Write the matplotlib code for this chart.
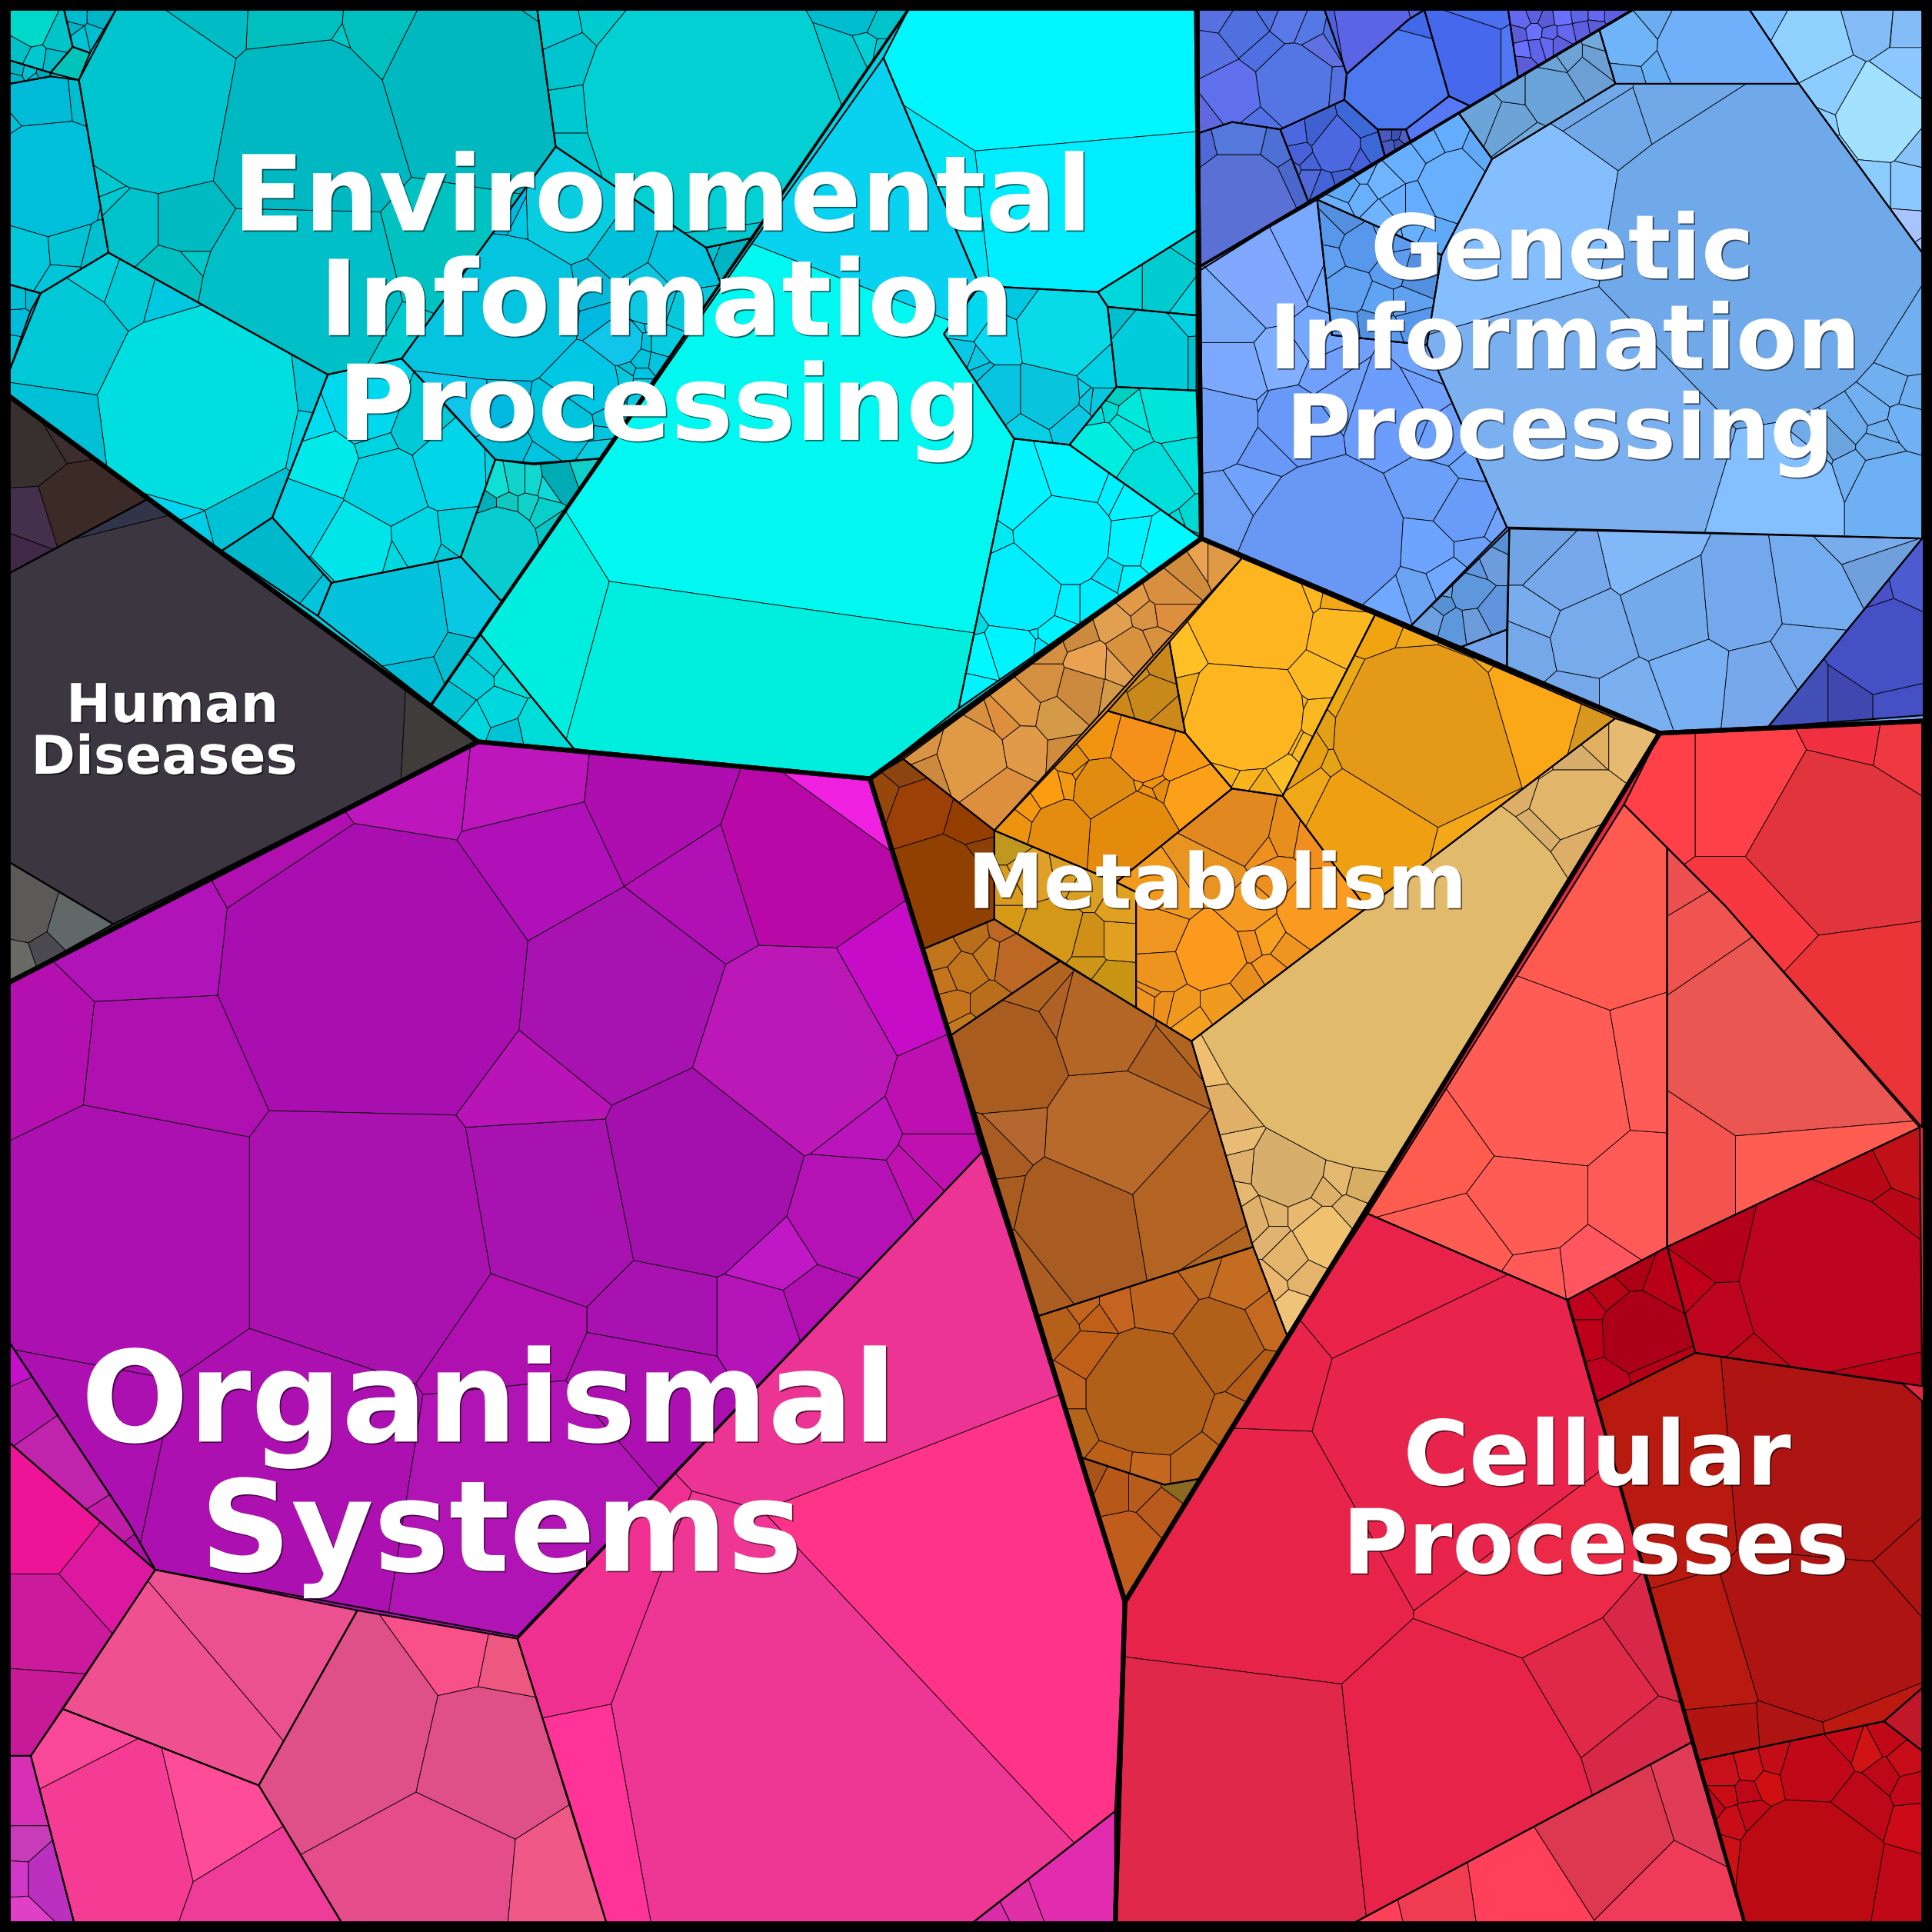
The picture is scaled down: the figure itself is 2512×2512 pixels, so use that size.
import matplotlib
matplotlib.use('Agg')
import matplotlib.pyplot as plt
import matplotlib.patheffects as pe
from matplotlib.patches import Polygon, Rectangle

# Voronoi treemap, everything in 1568 px coordinates
# regions are typed, cells come from seed points (x, y, radius) in each region

# --- Environmental
t1_poly = [(8,8),(52,8),(59,38),(41,59),(8,49)]
t1_seeds = [(25,20,15),(46,30,6),(30,48,4),(42,50,4),(14,40,5)]
t1_cols = ['#00D8CC','#00C4C8','#00C8D0','#00BCC8','#00C0C8']
t2_poly = [(52,8),(94,8),(73,43),(59,38)]
t2_seeds = [(62,14,5),(80,14,6),(66,30,5),(75,28,5),(60,22,3)]
t2_cols = ['#00BCD0','#00B4C8','#00C4D4']
t2b_poly = [(41,59),(59,38),(73,43),(64,65)]
t2b_seeds = [(58,52,12)]
t2b_cols = ['#00C4B8']
t3_poly = [(8,49),(41,59),(41,62),(8,68)]
t3_seeds = [(14,56,4),(24,58,4),(34,60,3),(12,64,3),(28,63,2)]
t3_cols = ['#00B4C8','#00C0D0','#00A8BC']
t4_poly = [(8,68),(41,62),(64,65),(88,205),(33,238),(8,231)]
t4_seeds = [(32,81,25),(38,143,45),(19,207,15),(56,204,6),(54,229,8),(80,210,6),(62,78,6),(68,150,3),(10,100,5)]
t4_cols = ['#00BBD8','#00BFDA','#00C8DA','#00C4D4','#00C4D8','#00C0D0','#00BCD0','#00C8D4','#00C0D8']
t5_poly = [(64,65),(94,8),(436,8),(451,119),(360,244),(326,291),(266,304),(88,205)]
t5_seeds = [(127,83,70),(245,105,75),(382,64,70),(236,25,30),(318,32,30),(169,22,25),(417,13,12),(242,236,75),(107,182,22),(150,182,22),(360,207,30),(140,217,14),(84,150,3),(270,48,4),(150,208,4),(245,55,4),(90,165,4),(330,285,3)]
t5_cols = ['#00C4CE','#00B8C2','#00B8C0','#00BFBF','#00C0BE','#00BCC4','#00BEC6','#00BFC6','#00C2CA','#00BCC2','#00C2C0','#00C0C2','#00C8D0','#00C8C8','#00C8C8','#00C8C8','#00C8D0','#00CCD0']
t6_poly = [(88,205),(266,304),(253,338),(221,420),(180,447),(8,322),(8,300),(33,238)]
t6_seeds = [(162,331,78),(51,277,42),(105,232,15),(41,347,35),(204,411,24),(137,420,5),(85,225,7),(135,240,5),(255,320,5),(250,350,6),(140,428,3)]
t6_cols = ['#00DEE0','#00C8D6','#00CCD8','#00C0D6','#00C2D4','#00D4F0','#00D0DC','#00C8E0','#00C8D8','#00D4E4','#00CCE4']
t7_poly = [(8,231),(33,238),(25,252),(8,300)]
t7_seeds = [(16,260,6),(15,243,4),(26,243,3),(12,285,5)]
t7_cols = ['#00BCDC','#00C0D8','#00B8D0','#00C4D8']
t8_poly = [(266,304),(326,291),(361,328),(402,373),(374,452),(269,473),(221,420)]
t8_seeds = [(264,376,22),(314,395,28),(366,379,28),(248,420,25),(287,443,30),(338,440,18),(372,436,12),(318,452,10),(296,331,25),(338,347,15),(306,363,6),(255,347,6),(258,471,3),(396,378,3),(362,450,3)]
t8_cols = ['#00EAEA','#00D4E4','#00D6E8','#00D4E6','#00E4EA','#00D6E4','#00D0DC','#00D8E0','#00D8EE','#00C8D4','#00D4E0','#00DCF0','#00C8D0','#00D0E0','#00C8D4']
t9_poly = [(180,447),(221,420),(269,473),(258,500)]
t9_seeds = [(225,460,30),(262,490,4)]
t9_cols = ['#00B8CC','#00C4DC']
t10_poly = [(269,473),(374,452),(407,488),(350,572),(258,500)]
t10_seeds = [(315,500,45),(325,555,28),(385,490,22),(375,535,10)]
t10_cols = ['#04C2DC','#00BCD4','#08C8E4','#04BED0']
t11_poly = [(360,244),(451,119),(573,201),(585,230),(489,372),(433,376),(402,373),(326,291)]
t11_seeds = [(412,250,55),(458,172,32),(508,208,16),(545,220,18),(526,239,24),(549,247,12),(427,173,10),(421,170,8),(503,277,18),(483,237,6),(520,291,7),(510,300,4),(533,293,5),(537,279,8),(524,279,4),(520,304,4),(520,310,3),(506,306,6),(476,312,26),(409,333,14),(402,333,7),(414,343,8),(456,341,26),(487,335,10),(485,352,4),(486,362,3),(414,362,13),(435,372,5),(518,256,3),(516,250,3),(520,262,3),(489,258,3),(525,261,3)]
t11_cols = ['#04C4E0','#08CCE0','#00C0DA','#00C4E0','#0CC8E0','#08C8DC','#00C8E4','#00B8E0','#10C4EA','#08B8D8','#00C4DC','#00C0D8']
t12_poly = [(402,373),(433,377),(489,372),(459,414),(407,488),(374,452)]
t12_seeds = [(405,440,28),(420,392,5),(432,392,5),(445,395,5),(405,395,3),(395,410,4),(455,388,12),(472,382,8),(412,410,6),(428,410,5),(440,415,5),(450,430,6)]
t12_cols = ['#08CCD0','#10D4CC','#10D8D0','#10D8D8','#10E0D4','#00B0B8','#00ACB4','#10D0C8','#10C8C0','#10D0C8','#08D0C8','#08C4C4']
t13_poly = [(436,8),(737,8),(611,193),(573,201),(451,119)]
t13_seeds = [(575,85,100),(452,22,5),(462,45,6),(470,95,6),(470,120,3),(490,15,2),(690,45,4),(705,38,4),(715,22,5),(700,15,4),(715,40,3),(590,195,3)]
t13_cols = ['#02D0D2','#00C8D2','#00C4CE','#00C8D0','#00C8D0','#00CCD0','#00C8D0','#00D0D4','#00C4CC','#00BCD0','#00C8D0','#00C8D0']
t14_poly = [(573,201),(611,193),(585,230)]
t14_seeds = [(590,212,10),(580,208,2)]
t14_cols = ['#00B4C4','#00C0D0']

r1_poly = [(717,47),(795,232),(766,271),(823,356),(778,575),(706,632),(466,608),(390,515),(612,195)]
r1_seeds = [(690,170,80),(620,350,150),(592,548,85),(390,493,57)]
r1_cols = ['#08D2F0','#00F8F0','#00EEDE','#00EEE0']
r2_poly = [(737,8),(971,8),(971,187),(891,237),(795,232),(717,47)]
r2_seeds = [(850,50,80),(860,165,65),(770,175,30)]
r2_cols = ['#00F6FF','#00ECFF','#00E4F4']
r3a_poly = [(795,232),(891,237),(899,249),(906,314),(868,361),(823,356),(766,271)]
r3a_seeds = [(863,269,36),(851,320,25),(811,320,20),(890,298,14),(868,340,12),(834,350,10),(811,276,15),(826,242,8),(890,325,3),(882,324,3),(876,318,3),(791,293,4),(795,303,3),(786,291,2),(790,261,8)]
r3a_cols = ['#08DAE8','#08C4DC','#08C4E0','#00D0E4','#08C8E4','#08D0E4','#08D8F0','#00C8E0','#08C8E0','#08C8E0','#08D0E4','#08C8E4','#08C0DC','#08C8E4','#00D8F0']
r3b_poly = [(891,237),(971,187),(971,256),(899,249)]
r3b_seeds = [(915,225,15),(945,225,20),(965,240,4),(965,195,8)]
r3b_cols = ['#00D8DC','#00CCD0','#00D4DC','#00CCD4']
r3c_poly = [(899,249),(971,256),(971,317),(906,314)]
r3c_seeds = [(936,286,30),(965,286,10),(900,256,3),(963,262,8)]
r3c_cols = ['#00CCDC','#00C0D0','#00C0D0','#00D0E0']
r3d_poly = [(906,314),(971,317),(975,437),(868,361)]
r3d_seeds = [(953,330,25),(920,338,12),(895,365,20),(915,347,12),(936,392,26),(961,375,14),(905,320,5),(957,427,4),(965,424,3),(961,434,3),(951,434,4),(890,335,3),(900,333,3)]
r3d_cols = ['#00E4DC','#00E8DC','#00EEE0','#00E4DC','#00DEDC','#00E0DC','#00D0C0','#00D8D4','#00D8D4','#00D4D0','#00D8D4','#00DCD8','#00D8D4']
r4_poly = [(823,356),(868,361),(975,437),(778,575)]
r4_seeds = [(863,436,38),(826,478,35),(870,392,24),(834,404,24),(915,441,16),(936,446,10),(901,466,8),(863,486,10),(890,486,10),(820,525,20),(795,533,15),(853,513,7),(843,528,5),(790,555,6),(915,469,3),(901,404,4),(911,409,4),(809,441,2),(788,505,2),(834,514,3)]
r4_cols = ['#00F0FF','#00ECFF','#00F4FF','#00F4FF','#00F4FF','#00F8FF','#00E4F8','#00F0FF','#00ECFF','#00F4FF','#00F8FF','#00F4FF','#00E4FF','#00F4FF','#00F4FF','#00F0FF','#00F4FF','#00E8F0','#00D8E0','#00ECFF']
r5_poly = [(350,572),(390,515),(466,608),(388,602)]
r5_seeds = [(385,550,8),(405,575,10),(435,590,8),(370,572,5),(398,535,5),(385,585,4),(415,548,4),(412,595,4)]
r5_cols = ['#00D0DC','#00D8E0','#00DCD8','#00C4D4']

# --- Genetic
g1_poly = [(973,8),(1075,8),(1093,60),(1091,81),(1039,105),(1000,99),(973,108)]
g1_seeds = [(1050,68,30),(1000,75,22),(1010,25,16),(985,45,12),(1045,18,10),(1070,40,8),(1072,70,8),(1025,42,12),(1062,25,5),(1030,12,4),(978,92,8),(1020,100,3),(1085,30,4),(990,12,5)]
g1_cols = ['#5476E4','#6070EC','#5070E0','#5872E4','#5A78E8','#6070E0','#5470E0','#4F70E0','#5478E4','#5070E0','#6068E0','#5070E4','#4C70E0','#5870E0']
g2_poly = [(1075,8),(1156,8),(1143,16),(1093,60)]
g2_seeds = [(1115,20,30),(1085,25,3),(1148,12,3)]
g2_cols = ['#5A64E4','#5060D8','#5868E0']
g3_poly = [(1156,8),(1224,8),(1232,63),(1193,86),(1176,78)]
g3_seeds = [(1190,45,30),(1218,45,10),(1200,15,8)]
g3_cols = ['#4568EC','#5078F4','#4A70F0']
g3b_poly = [(1093,60),(1143,16),(1156,8),(1176,78),(1141,105),(1118,105),(1091,81)]
g3b_seeds = [(1135,65,38),(1148,16,2)]
g3b_cols = ['#4C78F0','#4068E8']
g3c_poly = [(1176,78),(1193,86),(1145,116),(1141,105)]
g3c_seeds = [(1168,98,15)]
g3c_cols = ['#5678F4']
g4_poly = [(1224,8),(1325,8),(1232,63)]
g4_seeds = [(1235,16,5),(1245,12,4),(1255,16,4),(1268,14,5),(1282,12,4),(1296,12,4),(1308,12,3),(1232,28,5),(1245,26,4),(1258,27,4),(1270,26,4),(1284,23,3),(1295,21,3),(1235,40,5),(1246,38,3),(1256,35,3),(1265,35,3),(1234,50,2)]
g4_cols = ['#6468F0','#5C60E0','#5A5CD8','#6A70FF','#5E64E8']
g5_poly = [(1091,81),(1118,105),(1124,127),(1062,164),(1039,105)]
g5_seeds = [(1085,120,18),(1055,125,6),(1105,100,6),(1070,108,7),(1062,145,5),(1075,150,5),(1052,110,4),(1100,128,6),(1112,120,4),(1090,145,4),(1048,138,3),(1062,132,3)]
g5_cols = ['#4C68E0','#4860D8','#3C68D8','#4060D0','#5068D8','#4464D8']
g6_poly = [(973,108),(1000,99),(1039,105),(1062,164),(973,220)]
g6_seeds = [(1005,165,42),(1005,118,16),(1048,145,10),(1035,125,4),(975,125,8)]
g6_cols = ['#5A70D4','#5478DC','#4A68CC','#4C70D4','#5068D8']
g7_poly = [(1118,105),(1141,105),(1145,116),(1124,127)]
g7_seeds = [(1126,110,2),(1133,110,2),(1139,112,2),(1128,118,2),(1135,117,2)]
g7_cols = ['#4858C0','#3C50B0','#5060C8']

m1_poly = [(1325,8),(1420,8),(1460,68),(1311,68),(1298,24)]
m1_seeds = [(1385,38,38),(1325,35,16),(1345,18,5),(1322,62,3),(1345,55,5)]
m1_cols = ['#70B0FA','#70B4F8','#6CACF0','#68A8EC','#68B0F4']
m2_poly = [(1298,24),(1311,68),(1211,129),(1184,92)]
m2_seeds = [(1258,75,18),(1225,98,12),(1285,58,6),(1240,118,6),(1210,92,6),(1272,45,7),(1295,45,4),(1298,35,3),(1228,75,3),(1262,52,4)]
m2_cols = ['#6AA4D8','#6CA4D8','#6CA0D4','#72A8DC']
m3_poly = [(1184,92),(1211,129),(1170,207),(1069,162)]
m3_seeds = [(1180,150,24),(1205,125,4),(1160,115,9),(1140,130,8),(1122,148,7),(1105,160,6),(1092,152,8),(1150,165,6),(1132,165,5),(1120,175,6),(1145,185,5),(1165,195,8),(1170,110,6),(1105,140,3),(1130,188,4),(1085,170,3)]
m3_cols = ['#68B0FC','#60A8F8','#64ACFC','#68B0FF','#70B4FF']
m3b_poly = [(1069,162),(1170,207),(1158,280),(1081,272)]
m3b_seeds = [(1095,235,12),(1105,200,14),(1130,220,8),(1092,180,5),(1120,245,8),(1140,245,6),(1145,265,8),(1130,270,4),(1115,262,4),(1090,265,4),(1078,210,3),(1082,190,2),(1125,192,3),(1148,225,5)]
m3b_cols = ['#60A0F0','#5898EC','#5C9CF0','#5490E0','#60A4F4']
m4_poly = [(971,218),(1069,162),(1081,272),(1158,280),(1223,428),(1144,509),(975,437)]
m4_seeds = [(1075,440,60),(1030,235,22),(1005,260,6),(1005,300,14),(1040,290,14),(1060,220,8),(1085,320,7),(1075,305,3),(1128,335,25),(1178,355,14),(995,345,20),(1030,365,12),(1165,295,3),(1155,320,4),(1050,345,24),(1020,400,12),(1165,400,15),(1195,375,5),(1190,415,22),(1160,445,14),(1175,470,10),(1120,490,16),(1005,410,3),(1040,340,4),(1062,275,5),(1195,445,5),(1212,425,3),(1150,480,5),(1078,228,3)]
m4_cols = ['#6898F4','#80A8FF','#78A8F8','#7CA8FF','#80B0FF','#78A8FF','#70A0F8','#70A0FC','#6C9CFC','#6CA0FC','#70A0F8','#6898F8','#70A4FC','#70A0FC','#6898F8','#70A4FC','#6CA0F8','#6CA4FC','#689CF8','#6CA4FF','#70A8FF','#70A8FF','#70A0F4','#70A4FC','#74A8FF','#6CA0F8','#70A4FC','#6CA4F4','#70A8FC']
m5_poly = [(1211,129),(1311,68),(1460,68),(1560,205),(1560,437),(1223,428),(1158,280),(1170,207)]
m5_seeds = [(1245,185,58),(1425,215,122),(1290,345,105),(1455,395,34),(1530,395,22),(1535,315,8),(1520,335,6),(1505,345,5),(1545,340,6),(1522,360,5),(1490,360,5),(1545,290,6),(1475,370,3),(1500,380,4),(1320,80,3),(1335,75,3),(1315,72,2),(1525,350,3),(1550,320,3)]
m5_cols = ['#84BEFF','#6FA9EA','#7AB0F0','#84BFFF','#6EB0F4','#70B0F0','#70B0F0','#6CACEC','#70B0F4','#6CACEC','#6CA4E0','#70B0F0','#72ACE8','#70B0F0','#70A8E8','#70A8E8','#70A8E8','#70B0F0','#70B0F0']
m6_poly = [(1420,8),(1560,8),(1560,205),(1460,68)]
m6_seeds = [(1525,95,32),(1490,75,10),(1467,30,24),(1520,15,10),(1550,18,8),(1550,60,10),(1485,125,10),(1548,150,9),(1520,150,10),(1555,120,4),(1545,190,8),(1555,205,3),(1478,105,6),(1440,15,3)]
m6_cols = ['#A2E2FF','#8CCCFF','#90D0FF','#84BCF8','#84BCF8','#8AC8FF','#90D4FF','#8AC8FF','#8CCCFF','#88C4F8','#A8C4FF','#A0C0FF','#8CD0FF','#7CC0FF']
m7_poly = [(1225,429),(1560,437),(1435,590),(1347,595),(1223,542)]
m7_seeds = [(1290,515,26),(1355,495,28),(1410,490,24),(1475,480,22),(1375,550,18),(1270,470,20),(1335,455,15),(1250,450,5),(1425,555,16),(1320,570,14),(1470,530,10),(1515,460,6),(1510,445,5),(1280,570,6),(1250,500,5),(1240,525,5)]
m7_cols = ['#78ABEC','#72AAEC','#74A8EC','#74ACF0','#78B0F4','#78A8EC','#80B8F8','#70A4E4','#78A8EC','#7AB0F0','#74A8EC','#70A0DC','#78ACEC','#74A8E8','#78ACEC','#74A8E8']
m8_poly = [(1225,429),(1223,511),(1186,525),(1144,509)]
m8_seeds = [(1192,480,12),(1210,455,7),(1170,490,4),(1162,500,3),(1210,495,5),(1180,505,4),(1195,503,3),(1218,438,3),(1172,478,3),(1198,460,3)]
m8_cols = ['#5E98DC','#6C9CDC','#5890D4','#6CA0E0','#6094DC']
m8b_poly = [(1186,525),(1223,511),(1223,542)]
m8b_seeds = [(1210,525,8)]
m8b_cols = ['#76A4EC']
d1_poly = [(1560,437),(1568,437),(1568,580),(1435,590)]
d1_seeds = [(1530,525,35),(1465,570,12),(1515,480,12),(1555,470,14),(1500,570,8),(1540,570,8)]
d1_cols = ['#4450C4','#4250B8','#4A50C8','#4C5CD0','#4048B0','#4450C4']

# --- Metabolism
a_poly = [(975,437),(1008,453),(807,674),(733,616)]
a_seeds = [(789,615,27),(811,645,20),(877,562,18),(860,581,14),(829,608,15),(919,527,14),(884,539,12),(850,555,10),(905,505,8),(945,478,10),(960,460,7),(930,500,6),(830,575,8),(815,590,6),(760,625,8),(895,565,5),(920,488,6),(935,520,5),(975,450,5),(850,525,5),(905,540,4),(800,595,4),(865,610,4),(752,605,4),(985,450,4),(945,498,3),(875,515,5)]
a_cols = ['#E09A45','#DD8F3D','#CC8A3E','#D59A48','#E09A48','#D8923E','#E8A252','#D49040','#E0A050','#D89040','#CF8C3C','#D89444']
a2_poly = [(949,521),(962,595),(899,577)]
a2_seeds = [(932,565,13),(950,585,6),(920,550,6),(942,538,4),(908,572,3)]
a2_cols = ['#C8881A','#CC8818','#D09020']
b_poly = [(1008,453),(1116,499),(1041,646),(1000,640),(962,595),(949,521)]
b_seeds = [(1017,502,47),(1011,579,46),(1083,515,20),(1067,548,14),(1070,585,12),(960,530,7),(1055,510,5),(1060,605,6),(1042,600,3),(1040,625,7),(1015,628,5),(1000,620,4),(1025,635,4),(1048,575,3),(968,565,3),(1060,485,3),(1085,490,3),(1050,600,3)]
b_cols = ['#FEB520','#FEB520','#FCB820','#FBBA22','#FAB820','#FFC026','#FBB81E','#FAB820','#F5B21E','#FBC028','#F8B41C','#F8B41C','#F0AE1C','#F5B420','#F0AC18','#FCB820','#F0A81A','#F5B420']
c_poly = [(1116,499),(1311,583),(1109,737),(1041,646)]
c_seeds = [(1155,595,72),(1240,570,40),(1105,570,24),(1115,660,45),(1150,525,14),(1180,530,10),(1055,610,14),(1090,625,8),(1085,590,6),(1125,515,7),(1205,540,5),(1295,585,5),(1075,640,6),(1195,680,5)]
c_cols = ['#E49A18','#FAA818','#EAAA14','#EEA012','#F0A818','#F4AC14','#E8A012','#E4A418','#E0A018','#F0A410','#F0AA16','#D89820','#F0A818','#F4A818']
d_poly = [(899,577),(962,595),(1000,640),(906,716),(807,674)]
d_seeds = [(927,609,25),(897,640,24),(919,676,33),(862,672,20),(967,648,20),(954,617,14),(892,600,15),(849,640,12),(831,652,8),(822,664,6),(870,617,8),(866,636,4),(879,628,4),(932,645,3),(941,641,3),(936,634,3),(919,634,3),(840,625,5),(860,609,5)]
d_cols = ['#F59018','#E08C10','#E48A0C','#E48C10','#FBA018','#F89A14','#F09410','#FC9C10','#F49812','#EC9410','#E49010','#F09814','#EC9210','#EC9010','#E48C10','#F09410','#F09C18']
e_poly = [(1000,640),(1041,646),(1109,737),(967,845),(922,818),(922,724),(906,716)]
e_seeds = [(1004,668,28),(1041,676,12),(1063,680,10),(982,774,26),(1068,740,26),(941,756,18),(943,788,16),(1013,740,14),(984,708,14),(1037,712,8),(1028,760,8),(1015,764,6),(993,816,14),(960,816,6),(971,831,7),(936,804,3),(932,811,3),(943,812,4),(1013,800,8),(1032,788,6),(1045,772,7),(949,732,10),(1024,684,8)]
e_cols = ['#E18820','#E88E1C','#F08E20','#FC9A1E','#FB9A20','#F09620','#EC941E','#F49A22','#E89422','#EE9020','#F8A020','#F09020','#F09A20','#F0981E','#F4A020','#E89020','#F09420','#EE901E','#E88E1C','#F49620','#F09420','#F09A20','#EE9020']
f_poly = [(807,674),(906,716),(922,724),(922,818),(807,746)]
f_seeds = [(853,756,22),(884,764,12),(908,764,12),(905,798,15),(884,782,4),(840,712,14),(818,680,8),(862,708,6),(818,724,7),(818,744,4),(910,736,8),(884,720,5)]
f_cols = ['#D49818','#D09018','#E0A020','#C89414','#CE9618','#E0A028','#C09820','#D8A024','#D89C20','#D49A18','#E0A020','#D8A024']
h_poly = [(750,770),(807,746),(860,780),(772,840)]
h_seeds = [(827,778,18),(782,790,10),(805,775,7),(775,815,6),(800,815,6),(815,755,3),(765,775,3),(785,835,3),(770,795,3),(790,760,3)]
h_cols = ['#BC6824','#C0741C','#C47A1C','#C4741C','#B86E1A']
i_poly = [(772,840),(860,780),(967,845),(1017,1012),(843,1068)]
i_seeds = [(815,860,40),(905,920,48),(875,990,45),(898,832,36),(965,975,42),(800,935,18),(870,825,3),(935,855,15),(825,1030,18),(805,975,10),(955,838,3),(835,795,3),(820,915,3),(985,1005,3)]
i_cols = ['#A85C20','#B86A2A','#A85C22','#B46624','#B46422','#A85C22','#AE6228','#AC6022','#AC5E22','#A85C20','#B06420','#B06420','#B46830','#B06420']
j_poly = [(1311,583),(1347,595),(1045,1085),(1017,1012),(967,845)]
j_seeds = [(1130,790,160),(1045,948,28),(1075,1003,20),(1045,1020,12),(1000,900,18),(995,865,10),(1015,990,14),(1030,985,7),(1085,955,6),(1075,965,4),(1060,985,5),(1005,975,7),(1028,1040,6),(1060,1035,3),(1010,945,5),(1050,1065,6),(1095,985,4),(1105,960,4),(1270,650,25),(1240,640,3),(1270,620,3),(1250,620,4),(1285,690,5),(1255,665,4),(1298,590,3),(1315,590,6),(1030,1005,6),(1005,925,4)]
j_cols = ['#E2BA6C','#D8AE6C','#F0C270','#E4B46C','#E0B068','#F0BE70','#DEB06A','#E0B46C','#E4B870','#DEB068','#E8B870','#E4B870','#EAB670','#E4B46C','#DEB06C','#F0C478','#E0B46C','#D8AE64','#E2B66A','#DCAE68','#D8AE6C','#E4B870','#DCAE68','#D8AE6C','#E0B060','#E6BA70','#E0B470','#E8BC74']
g_poly = [(733,616),(807,674),(807,746),(750,770),(706,632)]
g_seeds = [(765,720,36),(745,655,18),(790,668,10),(735,625,8),(797,695,6),(718,645,4)]
g_cols = ['#904000','#9C4008','#943E00','#8C4410','#8C4008','#94480C']
k_poly = [(843,1068),(1017,1012),(1045,1085),(975,1200),(945,1205),(878,1183)]
k_seeds = [(930,1130,48),(988,1090,30),(942,1055,20),(1005,1040,15),(888,1100,16),(860,1075,6),(880,1060,5),(975,1030,7),(905,1060,6),(870,1130,8),(1028,1070,6),(870,1155,4),(975,1190,4),(910,1188,4),(1020,1120,7),(890,1070,3),(925,1190,3),(1003,1155,5)]
k_cols = ['#B06018','#B06018','#BC6420','#C46C20','#C06018','#B46018','#C06420','#BC6A20','#C46420','#C06420','#C46A20','#B46418','#B8641C','#BC6018','#B45C18','#C06018','#C46820','#B8641C']
l_poly = [(878,1183),(945,1205),(975,1200),(913,1300)]
l_seeds = [(915,1255,18),(905,1205,8),(945,1225,7),(960,1205,5),(885,1195,5),(925,1205,5)]
l_cols = ['#C05C1C','#B85818','#B85A1C','#8A6A20','#A85418','#B85C1C']

# --- Cellular
c1_poly = [(1347,595),(1560,585),(1560,915),(1400,735),(1318,653)]
c1_seeds = [(1490,680,60),(1420,640,32),(1510,830,58),(1420,745,22),(1540,600,8),(1510,595,5),(1345,640,3)]
c1_cols = ['#E2343C','#FF4048','#EA3438','#F83840','#F03840','#F03040','#FF4048']
c2_poly = [(1318,653),(1353,688),(1353,1012),(1272,1055),(1110,985)]
c2_seeds = [(1300,745,52),(1250,880,62),(1180,930,14),(1240,975,34),(1330,975,22),(1290,1035,12),(1250,1040,8),(1338,865,8),(1200,1005,8)]
c2_cols = ['#FF5A50','#FF5C56','#FF5C50','#FF5C56','#FF5A58','#FF5660','#FF5A58','#FF5C58','#FF5C54']
c3_poly = [(1353,688),(1400,735),(1558,915),(1353,1012)]
c3_seeds = [(1445,840,70),(1365,960,15),(1455,960,22),(1365,720,6),(1380,745,8)]
c3_cols = ['#EA5652','#F45450','#FF5C52','#EC5050','#F05450']
c4a_poly = [(1272,1055),(1353,1012),(1376,1098),(1295,1138)]
c4a_seeds = [(1330,1080,28),(1352,1040,11),(1290,1082,7),(1305,1050,6),(1290,1062,3),(1300,1125,8),(1345,1115,6),(1325,1030,8)]
c4a_cols = ['#AC0018','#B80018','#BC0018','#B80414','#C0001C','#BE0020','#B40014','#AC0014']
c4b_poly = [(1353,1012),(1558,915),(1560,1125),(1376,1098)]
c4b_seeds = [(1485,1040,72),(1400,1065,22),(1398,1020,18),(1380,1045,5),(1515,960,10),(1545,945,12),(1530,982,4),(1500,1108,4),(1430,1100,4)]
c4b_cols = ['#BE0520','#BE0520','#B40018','#C00018','#B80818','#C01018','#B80818','#B80018','#BA0A18']
c5_poly = [(1295,1138),(1376,1098),(1544,1123),(1560,1137),(1560,1370),(1529,1397),(1377,1429)]
c5_seeds = [(1490,1188,78),(1350,1200,42),(1478,1328,66),(1395,1353,28),(1400,1404,12),(1454,1400,12),(1503,1391,10),(1555,1260,14)]
c5_cols = ['#AE1412','#B81A10','#AE1412','#B81A10','#B21412','#AE1412','#BC1A10','#AE1412']
c6_poly = [(1377,1429),(1529,1397),(1560,1421),(1560,1560),(1415,1560)]
c6_seeds = [(1469,1518,58),(1473,1440,26),(1507,1467,22),(1539,1530,22),(1553,1480,8),(1400,1440,6),(1420,1435,5),(1440,1430,4),(1400,1458,5),(1418,1455,4),(1435,1448,5),(1420,1470,4),(1405,1475,4),(1392,1465,3),(1515,1420,5),(1530,1412,4),(1545,1430,6),(1530,1440,5),(1550,1450,4),(1500,1415,3),(1395,1510,14)]
c6_cols = ['#BC0A12','#C00818','#BC0818','#C00818','#CC0A18','#C8101A','#CC1018','#C40C18','#C80C12','#BC0818','#D01010','#C00818','#C80C18','#BC0818','#D01414','#C00818','#C80C18','#BC0818','#C00818','#C40818','#CC1014']
c9_poly = [(1529,1397),(1560,1370),(1560,1421)]
c9_seeds = [(1548,1398,10)]
c9_cols = ['#C01828']
c7_poly = [(1110,985),(1272,1055),(1373,1414),(1100,1560),(905,1560),(913,1300),(1045,1085)]
c7_seeds = [(1025,1255,90),(1000,1455,85),(1190,1435,80),(1175,1170,100),(1120,1055,20),(1300,1370,34),(1250,1270,48),(1335,1345,10),(1320,1395,4),(1030,1130,2)]
c7_cols = ['#E8234A','#E0284A','#E8234A','#E8244C','#E82248','#E02848','#EC2A48','#D82848','#D82848','#E8244A']
c8_poly = [(1100,1560),(1373,1414),(1415,1560)]
c8_seeds = [(1305,1490,40),(1235,1535,28),(1350,1535,22),(1165,1545,10),(1385,1465,14),(1110,1558,2)]
c8_cols = ['#DC3850','#FF4058','#F03A5A','#F03C50','#E03C58','#FF4058']

# --- Organismal
o1_poly = [(8,797),(388,602),(706,632),(728,700),(770,840),(797,935),(420,1328),(126,1274),(105,1237),(8,1090)]
o1_seeds = [(305,790,112),(505,810,68),(645,855,72),(100,1000,100),(300,1000,95),(445,975,62),(570,950,72),(125,870,48),(32,860,30),(690,985,42),(545,1075,20),(440,695,38),(428,645,22),(525,655,30),(570,725,22),(650,700,48),(725,810,22),(760,890,18),(745,960,5),(235,1195,90),(425,1225,88),(70,1160,25),(620,1075,22),(535,1130,38),(695,920,8),(635,1020,14),(665,1060,22),(440,890,14),(690,645,8),(120,770,20),(245,700,15),(410,1075,8),(760,945,5),(330,635,18)]
o1_cols = ['#A90FB0','#A812B0','#BC18B8','#AC10B0','#AA12B0','#A812B0','#A410AD','#AF10B0','#B410B0','#B512B5','#A812B0','#B010B8','#BC16BC','#AE0EB0','#B010B4','#B808A8','#C70CC8','#BE10B0','#C010B0','#AC10B0','#B014B4','#AC10B0','#B414B8','#AC10B0','#BC14BC','#C018C4','#B010B0','#B814B8','#F020E0','#B014B8','#B010B0','#B010B0','#C010B0','#BC16BC']
o2_poly = [(8,1090),(105,1237),(126,1274),(8,1171)]
o2_seeds = [(13,1108,5),(25,1135,8),(60,1185,30),(95,1240,6),(110,1260,5)]
o2_cols = ['#C410C8','#B818B0','#C024AC','#C01CA8','#B010A8']
p_poly = [(797,935),(838,1060),(913,1300),(905,1470),(790,1560),(492,1560),(420,1330)]
p_seeds = [(630,1420,125),(790,1270,95),(720,1090,80),(465,1450,42),(445,1350,4)]
p_cols = ['#EE3694','#FF3388','#EC3494','#FF3398','#F03090']
p2_poly = [(905,1470),(905,1560),(790,1560)]
p2_seeds = [(865,1530,22),(805,1555,4),(825,1545,4)]
p2_cols = ['#E22CB0','#D82CA8','#E030A8']
q1_poly = [(126,1274),(290,1307),(210,1449),(51,1387)]
q1_seeds = [(221,1309,50),(129,1387,50)]
q1_cols = ['#EB5090','#EF5090']
q2_poly = [(290,1307),(420,1330),(470,1488),(492,1560),(277,1560),(210,1449)]
q2_seeds = [(285,1400,60),(395,1425,45),(350,1520,48),(462,1530,14),(375,1335,12),(410,1342,6)]
q2_cols = ['#E05088','#E05088','#E54C8C','#F05888','#F85088','#EC5880']
q3_poly = [(25,1425),(51,1387),(210,1449),(277,1560),(60,1560)]
q3_seeds = [(90,1490,55),(175,1470,28),(215,1535,25),(50,1412,12)]
q3_cols = ['#F53C94','#FF4C98','#EE3C98','#FA4898']
r_poly = [(8,1171),(126,1274),(25,1425),(8,1425)]
r_seeds = [(35,1235,30),(85,1275,18),(35,1320,30),(30,1390,28)]
r_cols = ['#EE1498','#DC18A0','#CC1A9C','#C81A98']
s_poly = [(8,1425),(25,1425),(60,1560),(8,1560)]
s_seeds = [(15,1460,20),(15,1495,10),(42,1525,18),(13,1525,8),(15,1553,6)]
s_cols = ['#D830B4','#C83CB8','#BC30C0','#D038C8','#E040C8']

# --- Human diseases
h1_poly = [(8,465),(120,405),(350,572),(388,602),(92,750),(8,700)]
h1_seeds = [(165,585,160),(360,595,14),(110,365,24)]
h1_cols = ['#3B3640','#3F3C3A','#32344A']
h2_poly = [(8,322),(120,405),(8,465)]
h2_seeds = [(60,410,22),(28,420,8),(25,365,18),(15,455,6),(50,350,6)]
h2_cols = ['#3C2A26','#43304A','#38302E','#402848','#3C2E30']
h3_poly = [(8,700),(92,750),(8,797)]
h3_seeds = [(22,745,12),(55,755,7),(15,780,4),(38,772,3)]
h3_cols = ['#5C5A58','#606868','#6A6A64','#4A4A50']

clusters = [
    (t1_poly,t1_seeds,t1_cols),(t2_poly,t2_seeds,t2_cols),(t2b_poly,t2b_seeds,t2b_cols),(t3_poly,t3_seeds,t3_cols),
    (t4_poly,t4_seeds,t4_cols),(t5_poly,t5_seeds,t5_cols),(t6_poly,t6_seeds,t6_cols),(t7_poly,t7_seeds,t7_cols),
    (t8_poly,t8_seeds,t8_cols),(t9_poly,t9_seeds,t9_cols),(t10_poly,t10_seeds,t10_cols),(t11_poly,t11_seeds,t11_cols),
    (t12_poly,t12_seeds,t12_cols),(t13_poly,t13_seeds,t13_cols),(t14_poly,t14_seeds,t14_cols),(r1_poly,r1_seeds,r1_cols),(r2_poly,r2_seeds,r2_cols),
    (r3a_poly,r3a_seeds,r3a_cols),(r3b_poly,r3b_seeds,r3b_cols),(r3c_poly,r3c_seeds,r3c_cols),(r3d_poly,r3d_seeds,r3d_cols),(r4_poly,r4_seeds,r4_cols),(r5_poly,r5_seeds,r5_cols),
    (g1_poly,g1_seeds,g1_cols),(g2_poly,g2_seeds,g2_cols),(g3_poly,g3_seeds,g3_cols),(g3b_poly,g3b_seeds,g3b_cols),
    (g3c_poly,g3c_seeds,g3c_cols),(g4_poly,g4_seeds,g4_cols),(g5_poly,g5_seeds,g5_cols),(g6_poly,g6_seeds,g6_cols),
    (g7_poly,g7_seeds,g7_cols),(m1_poly,m1_seeds,m1_cols),(m2_poly,m2_seeds,m2_cols),(m3_poly,m3_seeds,m3_cols),
    (m3b_poly,m3b_seeds,m3b_cols),(m4_poly,m4_seeds,m4_cols),(m5_poly,m5_seeds,m5_cols),(m6_poly,m6_seeds,m6_cols),
    (m7_poly,m7_seeds,m7_cols),(m8_poly,m8_seeds,m8_cols),(m8b_poly,m8b_seeds,m8b_cols),(d1_poly,d1_seeds,d1_cols),
    (a_poly,a_seeds,a_cols),(a2_poly,a2_seeds,a2_cols),(b_poly,b_seeds,b_cols),(c_poly,c_seeds,c_cols),(d_poly,d_seeds,d_cols),
    (e_poly,e_seeds,e_cols),(f_poly,f_seeds,f_cols),(h_poly,h_seeds,h_cols),(i_poly,i_seeds,i_cols),(j_poly,j_seeds,j_cols),
    (g_poly,g_seeds,g_cols),(k_poly,k_seeds,k_cols),(l_poly,l_seeds,l_cols),
    (c1_poly,c1_seeds,c1_cols),(c2_poly,c2_seeds,c2_cols),(c3_poly,c3_seeds,c3_cols),(c4a_poly,c4a_seeds,c4a_cols),
    (c4b_poly,c4b_seeds,c4b_cols),(c5_poly,c5_seeds,c5_cols),(c6_poly,c6_seeds,c6_cols),(c9_poly,c9_seeds,c9_cols),(c7_poly,c7_seeds,c7_cols),(c8_poly,c8_seeds,c8_cols),
    (o1_poly,o1_seeds,o1_cols),(o2_poly,o2_seeds,o2_cols),(p_poly,p_seeds,p_cols),(p2_poly,p2_seeds,p2_cols),(q1_poly,q1_seeds,q1_cols),(q2_poly,q2_seeds,q2_cols),(q3_poly,q3_seeds,q3_cols),(r_poly,r_seeds,r_cols),(s_poly,s_seeds,s_cols),
    (h1_poly,h1_seeds,h1_cols),(h2_poly,h2_seeds,h2_cols),(h3_poly,h3_seeds,h3_cols),
]

# top level borders, outer edges sit inside the black frame
env_border = [(4,319),(388,602),(706,632),(975,437),(971,4),(4,4)]
gen_border = [(971,4),(1564,4),(1564,585),(1347,595),(975,437)]
met_border = [(975,437),(1347,595),(913,1300),(706,632)]
cel_border = [(1347,595),(1564,585),(1564,1564),(905,1564),(913,1300)]
org_border = [(388,602),(706,632),(913,1300),(905,1564),(4,1564),(4,799)]
hum_border = [(4,319),(388,602),(4,799)]
borders = [env_border, gen_border, met_border, cel_border, org_border, hum_border]
border_cols = ['#00D0E0','#70A0F0','#E09020','#E02840','#B010B0','#3B3640']
# second level dividers
env_split = [(737,8),(350,572)]
gen_split = [(971,218),(1325,8)]
cel_split = [(1272,1055),(1416,1560)]

label_lines = ['Environmental','Information','Processing','Genetic','Information','Processing','Organismal','Systems','Cellular','Processes','Human','Diseases','Metabolism']
label_x = [537.5,541,535,1268,1270,1266,397,407,1296,1295,140,133.5,988]
label_y = [187,272,357,226,299,372,1170,1275,1205,1277,586,628,737]
label_size = [98,98,98,83.5,83.5,83.5,118.5,118.5,84,84,50,50,71.3]


def clip(poly, a, b, c):
    # keep the part of a polygon where a*x + b*y <= c
    out = []
    for i in range(len(poly)):
        p, q = poly[i], poly[(i+1) % len(poly)]
        dp = a*p[0] + b*p[1] - c
        dq = a*q[0] + b*q[1] - c
        if dp <= 0:
            out.append(p)
        if dp*dq < 0:
            t = dp/(dp-dq)
            out.append((p[0]+t*(q[0]-p[0]), p[1]+t*(q[1]-p[1])))
    return out


def power_cells(poly, seeds):
    cells = []
    for i, (x, y, r) in enumerate(seeds):
        cell = list(poly)
        for j, (u, v, s) in enumerate(seeds):
            if i == j:
                continue
            cell = clip(cell, 2*(u-x), 2*(v-y), u*u+v*v-s*s-x*x-y*y+r*r)
            if len(cell) < 3:
                break
        cells.append(cell)
    return cells


fig = plt.figure(figsize=(25.12, 25.12), dpi=100, facecolor='black')
ax = fig.add_axes([0, 0, 1, 1])
ax.set_xlim(0, 1568)
ax.set_ylim(1568, 0)
ax.axis('off')

for b, col in zip(borders, border_cols):
    ax.add_patch(Polygon(b, closed=True, facecolor=col, edgecolor='none', zorder=0))
for poly, seeds, cols in clusters:
    ax.add_patch(Polygon(poly, closed=True, facecolor=cols[0], edgecolor='none', zorder=1))
    for i, cell in enumerate(power_cells(poly, seeds)):
        if len(cell) >= 3:
            ax.add_patch(Polygon(cell, closed=True, facecolor=cols[i % len(cols)], edgecolor='black', linewidth=0.6, zorder=2))
for poly, seeds, cols in clusters:
    ax.add_patch(Polygon(poly, closed=True, fill=False, edgecolor='black', linewidth=1.5, joinstyle='round', zorder=3))
for b in borders:
    ax.add_patch(Polygon(b, closed=True, fill=False, edgecolor='black', linewidth=4.4, joinstyle='round', zorder=4))
for s in [env_split, gen_split, cel_split]:
    ax.plot([s[0][0], s[1][0]], [s[0][1], s[1][1]], color='black', linewidth=2.6, zorder=4)
ax.add_patch(Rectangle((3.8, 3.8), 1560.4, 1560.4, fill=False, edgecolor='black', linewidth=8.6, zorder=5))

shadow = [pe.SimplePatchShadow(offset=(1.2, -1.2), shadow_rgbFace='black', alpha=0.6), pe.Normal()]
for txt, x, y, fs in zip(label_lines, label_x, label_y, label_size):
    ax.text(x, y, txt, color='white', fontsize=fs, fontweight='bold', family='DejaVu Sans',
            ha='center', va='baseline', zorder=6, path_effects=shadow)

fig.savefig('out.png', dpi=100, facecolor='black')
